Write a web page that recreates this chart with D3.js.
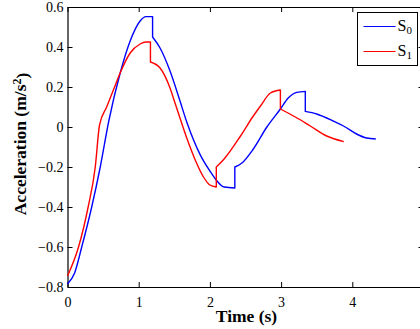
<!DOCTYPE html>
<html>
<head>
<meta charset="utf-8">
<script src="https://cdn.jsdelivr.net/npm/d3@7"></script>
<style>
  body { margin: 0; background: #fff; }
  svg { display: block; }
  text { font-family: 'Liberation Serif', 'DejaVu Serif', serif; fill: #000; }
</style>
</head>
<body>
<svg id="chart" width="420" height="329"></svg>
<script>
// Series S0 (blue): time (s) and acceleration (m/s^2); repeated times are step jumps
const s0Time = [0, 0.1, 0.2, 0.34, 0.46, 0.58, 0.74, 0.88, 1.02, 1.1, 1.195, 1.195, 1.3, 1.44, 1.58, 1.68, 1.87, 2.0, 2.1, 2.2, 2.35, 2.35, 2.45, 2.61, 2.8, 2.99, 3.1, 3.22, 3.34, 3.34, 3.5, 3.73, 3.9, 4.06, 4.2, 4.33];
const s0Accel = [-0.785, -0.73, -0.6, -0.4, -0.2, 0.03, 0.27, 0.43, 0.53, 0.552, 0.552, 0.45, 0.395, 0.28, 0.13, 0.02, -0.143, -0.22, -0.27, -0.3, -0.305, -0.2, -0.18, -0.11, 0.0, 0.09, 0.145, 0.173, 0.178, 0.078, 0.065, 0.03, 0.0, -0.035, -0.055, -0.06];

// Series S1 (red)
const s1Time = [0, 0.155, 0.29, 0.39, 0.45, 0.55, 0.65, 0.745, 0.88, 1.02, 1.1, 1.165, 1.165, 1.3, 1.44, 1.51, 1.68, 1.8, 1.91, 2.0, 2.09, 2.09, 2.2, 2.43, 2.6, 2.71, 2.85, 2.99, 2.99, 3.2, 3.41, 3.64, 3.88];
const s1Accel = [-0.745, -0.6, -0.4, -0.2, 0.01, 0.1, 0.19, 0.275, 0.37, 0.415, 0.425, 0.425, 0.325, 0.295, 0.195, 0.12, -0.06, -0.17, -0.25, -0.29, -0.3, -0.2, -0.16, -0.045, 0.05, 0.105, 0.17, 0.185, 0.09, 0.05, 0.005, -0.045, -0.073];

const xTicks = [0, 1, 2, 3, 4, 5];
const yTicks = [-0.8, -0.6, -0.4, -0.2, 0, 0.2, 0.4, 0.6];
const seriesNames = ['0', '1'];
const seriesColours = ['#0000ff', '#ff0000'];

const svg = d3.select('#chart');

const margins = { left: 67.5, top: 7, right: 423.5, bottom: 287 };

const x = d3.scaleLinear().domain([0, 5]).range([margins.left, margins.right]);
const y = d3.scaleLinear().domain([-0.8, 0.6]).range([margins.bottom, margins.top]);

const fmt = d => d === 0 ? '0' : d3.format('.1f')(d).replace('-', '\u2212');

// Axes with inward ticks on all four sides
const tickLen = 5;
svg.append('g')
    .attr('transform', `translate(0, ${margins.bottom})`)
    .call(d3.axisBottom(x).tickValues(xTicks).tickFormat(d3.format('d')).tickSizeInner(-tickLen).tickSizeOuter(0).tickPadding(9))
    .call(g => g.selectAll('text').style('font-size', '14px').attr('dy', '0.75em'));

svg.append('g')
    .attr('transform', `translate(0, ${margins.top})`)
    .call(d3.axisTop(x).tickValues(xTicks).tickFormat('').tickSizeInner(-tickLen).tickSizeOuter(0));

svg.append('g')
    .attr('transform', `translate(${margins.left}, 0)`)
    .call(d3.axisLeft(y).tickValues(yTicks).tickFormat(fmt).tickSizeInner(-tickLen).tickSizeOuter(0).tickPadding(4))
    .call(g => g.selectAll('text').style('font-size', '14px'));

svg.append('g')
    .attr('transform', `translate(${margins.right}, 0)`)
    .call(d3.axisRight(y).tickValues(yTicks).tickFormat('').tickSizeInner(-tickLen).tickSizeOuter(0));

svg.selectAll('.domain').attr('stroke', '#000').attr('stroke-width', 1.2);
svg.selectAll('.tick line').attr('stroke', '#000');
svg.selectAll('.tick text').attr('fill', '#000').attr('font-family', "'Liberation Serif', serif");

// Lines: smooth each piece between step jumps, join the pieces with vertical steps
const segLine = d3.line().x(d => x(d[0])).y(d => y(d[1])).curve(d3.curveMonotoneX);

function stepPath(times, values) {
    const pts = d3.zip(times, values);
    const pieces = [[]];
    pts.forEach((p, i) => {
        if (i > 0 && p[0] === pts[i - 1][0]) pieces.push([]);
        pieces[pieces.length - 1].push(p);
    });
    return pieces.map((seg, i) => {
        const d = segLine(seg);
        return i === 0 ? d : 'L' + d.slice(1);
    }).join('');
}

const seriesData = [
    stepPath(s0Time, s0Accel),
    stepPath(s1Time, s1Accel),
];

svg.append('g')
    .selectAll('path')
    .data(seriesData)
    .join('path')
    .attr('d', d => d)
    .attr('fill', 'none')
    .attr('stroke', (d, i) => seriesColours[i])
    .attr('stroke-width', 1.4)
    .attr('stroke-linejoin', 'round');

// Axis labels
svg.append('text')
    .attr('x', (margins.left + margins.right) / 2 + 1)
    .attr('y', 322)
    .attr('text-anchor', 'middle')
    .style('font-size', '17.5px')
    .style('font-weight', 'bold')
    .text('Time (s)');

const yLabel = svg.append('text')
    .attr('transform', `translate(26, 144) rotate(-90)`)
    .attr('text-anchor', 'middle')
    .style('font-size', '17.5px')
    .style('font-weight', 'bold');
yLabel.append('tspan').text('Acceleration (m/s');
yLabel.append('tspan').attr('dy', '-0.45em').style('font-size', '12px').text('2');
yLabel.append('tspan').attr('dy', '0.45em').text(')');

// Legend
const legend = svg.append('g').attr('transform', 'translate(357.5, 12.5)');
legend.append('rect')
    .attr('width', 60)
    .attr('height', 53)
    .attr('fill', '#fff')
    .attr('stroke', '#000')
    .attr('stroke-width', 1);

const items = legend.selectAll('g.legend-item')
    .data(seriesNames)
    .join('g')
    .attr('class', 'legend-item')
    .attr('transform', (d, i) => `translate(0, ${14 + i * 25})`);

items.append('line')
    .attr('x1', 6)
    .attr('x2', 38)
    .attr('stroke', (d, i) => seriesColours[i])
    .attr('stroke-width', 1.2);

const labels = items.append('text')
    .attr('x', 40)
    .attr('y', 4)
    .style('font-size', '16px');
labels.append('tspan').text('S');
labels.append('tspan').attr('dy', '0.3em').style('font-size', '11px').text(d => d);
</script>
</body>
</html>
